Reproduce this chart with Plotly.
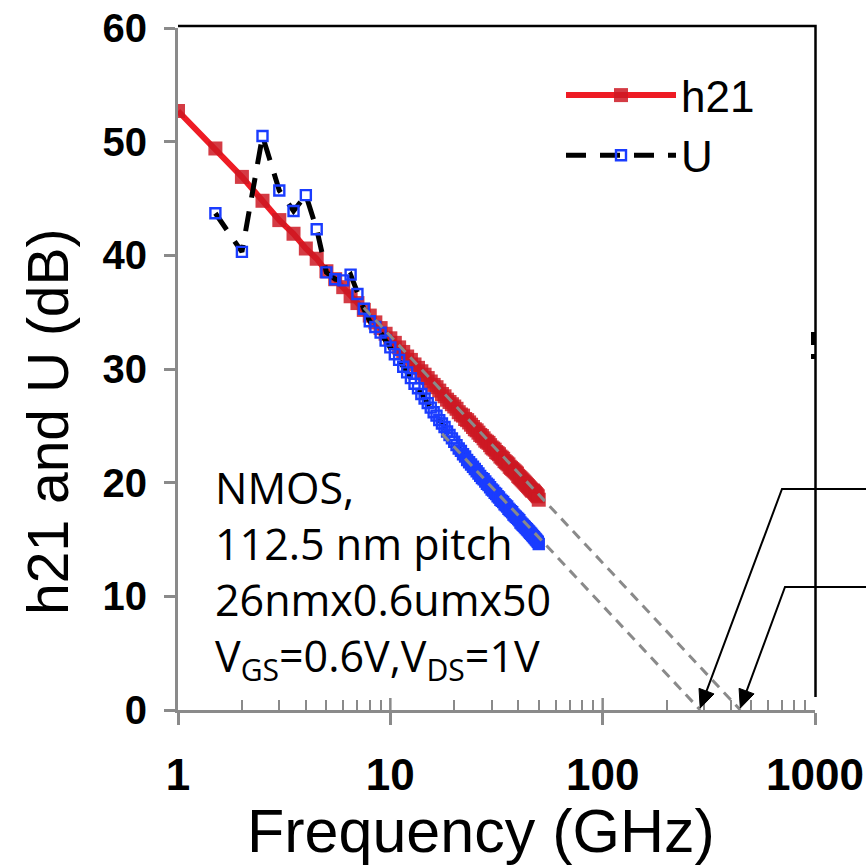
import math
import plotly.graph_objects as go

# Frequency sweep (GHz)
freq = [1.0, 1.5, 2.0, 2.5, 3.0, 3.5, 4.0, 4.5, 5.0, 5.5, 6.0, 6.5, 7.0, 7.5, 8.0, 8.5, 9.0, 9.5,
        10.0, 10.5, 11.0, 11.5, 12.0, 12.5, 13.0, 13.5, 14.0, 14.5, 15.0, 15.5, 16.0, 16.5, 17.0, 17.5,
        18.0, 18.5, 19.0, 19.5, 20.0, 20.5, 21.0, 21.5, 22.0, 22.5, 23.0, 23.5, 24.0, 24.5, 25.0, 25.5,
        26.0, 26.5, 27.0, 27.5, 28.0, 28.5, 29.0, 29.5, 30.0, 30.5, 31.0, 31.5, 32.0, 32.5, 33.0, 33.5,
        34.0, 34.5, 35.0, 35.5, 36.0, 36.5, 37.0, 37.5, 38.0, 38.5, 39.0, 39.5, 40.0, 40.5, 41.0, 41.5,
        42.0, 42.5, 43.0, 43.5, 44.0, 44.5, 45.0, 45.5, 46.0, 46.5, 47.0, 47.5, 48.0, 48.5, 49.0, 49.5, 50.0]

h21_db = [52.7, 49.4, 46.9, 44.8, 43.1, 41.9, 40.6, 39.7, 38.6, 37.9, 37.2, 36.4, 35.8, 35.2, 34.7, 34.1, 33.6, 33.1,
          32.7, 32.3, 31.9, 31.5, 31.1, 30.8, 30.4, 30.1, 29.8, 29.5, 29.2, 28.9, 28.6, 28.4, 28.1, 27.8,
          27.6, 27.3, 27.1, 26.9, 26.7, 26.5, 26.2, 26.0, 25.9, 25.6, 25.5, 25.3, 25.1, 24.9, 24.7, 24.6,
          24.4, 24.2, 24.1, 23.9, 23.7, 23.6, 23.5, 23.3, 23.1, 23.0, 22.9, 22.7, 22.6, 22.5, 22.3, 22.2,
          22.1, 21.9, 21.8, 21.7, 21.6, 21.4, 21.3, 21.2, 21.1, 21.0, 20.9, 20.8, 20.6, 20.5, 20.4, 20.3,
          20.2, 20.1, 20.0, 19.9, 19.8, 19.7, 19.6, 19.5, 19.4, 19.3, 19.3, 19.2, 19.1, 19.0, 18.9, 18.8, 18.5]

u_db = [None, 43.7, 40.3, 50.5, 45.7, 43.9, 45.3, 42.3, 38.5, 37.9, 37.8, 38.3, 36.6, 35.3, 34.2, 33.7, 33.2, 32.5,
        31.9, 31.3, 30.8, 30.2, 29.7, 29.2, 28.7, 28.3, 27.8, 27.4, 27.0, 26.6, 26.2, 25.9, 25.5, 25.2,
        24.9, 24.5, 24.2, 23.9, 23.6, 23.3, 23.0, 22.8, 22.5, 22.3, 22.0, 21.8, 21.6, 21.4, 21.2, 21.0,
        20.8, 20.6, 20.4, 20.3, 20.1, 19.9, 19.8, 19.6, 19.4, 19.3, 19.1, 19.0, 18.8, 18.7, 18.5, 18.4,
        18.3, 18.1, 18.0, 17.9, 17.7, 17.6, 17.5, 17.4, 17.2, 17.1, 17.0, 16.9, 16.8, 16.7, 16.5, 16.4,
        16.3, 16.2, 16.1, 16.0, 15.9, 15.8, 15.7, 15.6, 15.5, 15.4, 15.3, 15.2, 15.1, 15.0, 14.9, 14.8, 14.6]

# -20 dB/decade extrapolations to 0 dB
fT = 445.0
fmax = 288.0
ext_h21_f = [7.5, fT]
ext_h21_db = [35.4, 0.0]
ext_u_f = [17.5, fmax]
ext_u_db = [24.3, 0.0]

x_ticks = [1, 10, 100, 1000]
x_ticktext = ["1", "10", "100", "1000"]
minor_ticks = [2, 3, 4, 5, 6, 7, 8, 9, 20, 30, 40, 50, 60, 70, 80, 90, 200, 300, 400, 500, 600, 700, 800, 900]

note_text = ("NMOS,<br>112.5 nm pitch<br>26nmx0.6umx50<br>"
             "V<sub>GS</sub>=0.6V,V<sub>DS</sub>=1V")
x_title = "Frequency (GHz)"
y_title = "h21 and U (dB)"

GREY = "#8a8a8a"
XMIN_LOG, XMAX_LOG = 0, 3

fig = go.Figure()
fig.add_trace(go.Scatter(
    x=freq, y=h21_db, name="h21", mode="lines+markers",
    line=dict(color="#ee1c25", width=6),
    marker=dict(symbol="square", size=14, color="rgba(205,25,35,0.85)", line=dict(width=0)),
))
fig.add_trace(go.Scatter(
    x=freq, y=u_db, name="U", mode="lines+markers",
    line=dict(color="black", width=5, dash="20px,14px"),
    marker=dict(symbol="square-open", size=10, color="#1a3cff", line=dict(width=2.4, color="#1a3cff")),
))
fig.add_trace(go.Scatter(
    x=ext_h21_f, y=ext_h21_db, mode="lines", showlegend=False, hoverinfo="skip",
    line=dict(color=GREY, width=3, dash="10px,7px"),
))
fig.add_trace(go.Scatter(
    x=ext_u_f, y=ext_u_db, mode="lines", showlegend=False, hoverinfo="skip",
    line=dict(color=GREY, width=3, dash="10px,7px"),
))

L, R, T, B = 178, 51, 28, 158
W, H = 866, 868
pw = W - L - R
ph = H - T - B


def px(xp):
    return (xp - L) / pw


def py(yp):
    return (H - B - yp) / ph


def paper_x_of_freq(f):
    return (math.log10(f) - XMIN_LOG) / (XMAX_LOG - XMIN_LOG)


fig.update_layout(
    width=W, height=H,
    margin=dict(l=L, r=R, t=T, b=B, pad=0, autoexpand=False),
    paper_bgcolor="white", plot_bgcolor="white",
    font=dict(family="Liberation Sans, Arial, sans-serif", color="black"),
    showlegend=True,
    legend=dict(
        x=px(561), y=py(60), xanchor="left", yanchor="top",
        bgcolor="rgba(0,0,0,0)", borderwidth=0,
        font=dict(size=44, family="Liberation Sans, Arial, sans-serif"),
        itemwidth=110, tracegroupgap=0,
    ),
    xaxis=dict(
        type="log", range=[XMIN_LOG, XMAX_LOG], automargin=False,
        showgrid=False, zeroline=False,
        showline=True, linecolor=GREY, linewidth=3,
        ticks="outside", ticklen=12, tickwidth=2.5, tickcolor=GREY,
        tickvals=x_ticks, ticktext=x_ticktext,
        tickfont=dict(size=44, weight="bold"),
        ticklabelstandoff=12,
        minor=dict(tickvals=minor_ticks, ticks="inside", ticklen=10, tickwidth=2, tickcolor=GREY),
    ),
    yaxis=dict(
        range=[0, 60], dtick=10, automargin=False,
        showgrid=False, zeroline=False,
        showline=True, linecolor=GREY, linewidth=3,
        ticks="outside", ticklen=11, tickwidth=2.5, tickcolor=GREY,
        tickfont=dict(size=40, weight="bold"),
        ticklabelstandoff=9,
    ),
)

# axis titles as positioned text
fig.add_annotation(x=px(481), y=py(831), xref="paper", yref="paper", showarrow=False,
                   text=x_title, font=dict(size=61), xanchor="center", yanchor="middle")
fig.add_annotation(x=px(48), y=py(422), xref="paper", yref="paper", showarrow=False,
                   text=y_title, font=dict(size=57), textangle=-90,
                   xanchor="center", yanchor="middle")

# major x ticks also extend above the axis (crossing ticks)
for f in x_ticks[1:3]:
    xp = paper_x_of_freq(f)
    fig.add_shape(type="line", xref="paper", yref="paper", x0=xp, x1=xp, y0=0, y1=py(698),
                  line=dict(color=GREY, width=2.5))

# frame lines top/right (black)
fig.add_shape(type="path", xref="paper", yref="paper",
              path=f"M 0,{py(26)} L {px(815.5)},{py(26)} L {px(815.5)},{py(697)}",
              line=dict(color="black", width=2.5))
fig.add_shape(type="line", xref="paper", yref="paper",
              x0=px(813), x1=px(813), y0=py(332), y1=py(345), line=dict(color="black", width=4))
fig.add_shape(type="line", xref="paper", yref="paper",
              x0=px(813), x1=px(813), y0=py(354), y1=py(359), line=dict(color="black", width=4))


# callout leader lines with arrowheads pointing at fmax and fT on the frequency axis
def add_callout(f_target, elbow_px, y_level_px):
    tip_x = L + paper_x_of_freq(f_target) * pw
    tip_y = H - B - 2
    ex, ey = elbow_px, y_level_px
    dx, dy = tip_x - ex, tip_y - ey
    d = math.hypot(dx, dy)
    ux, uy = dx / d, dy / d
    head_len, head_w = 18, 8
    bx, by = tip_x - ux * head_len, tip_y - uy * head_len
    nx, ny = -uy, ux
    fig.add_shape(type="path", xref="paper", yref="paper",
                  path=(f"M {px(W)},{py(ey)} L {px(ex)},{py(ey)} L {px(bx)},{py(by)}"),
                  line=dict(color="black", width=2))
    fig.add_shape(type="path", xref="paper", yref="paper",
                  path=(f"M {px(tip_x)},{py(tip_y)} L {px(bx + nx * head_w)},{py(by + ny * head_w)} "
                        f"L {px(bx - nx * head_w)},{py(by - ny * head_w)} Z"),
                  line=dict(color="black", width=1), fillcolor="black")


add_callout(fmax, 782, 489)
add_callout(fT, 785, 587)

fig.add_annotation(x=px(213), y=py(456), xref="paper", yref="paper",
                   xanchor="left", yanchor="top", align="left", showarrow=False,
                   text=note_text, font=dict(family="Open Sans", size=43, color="black"))

fig.write_html("out.html")
